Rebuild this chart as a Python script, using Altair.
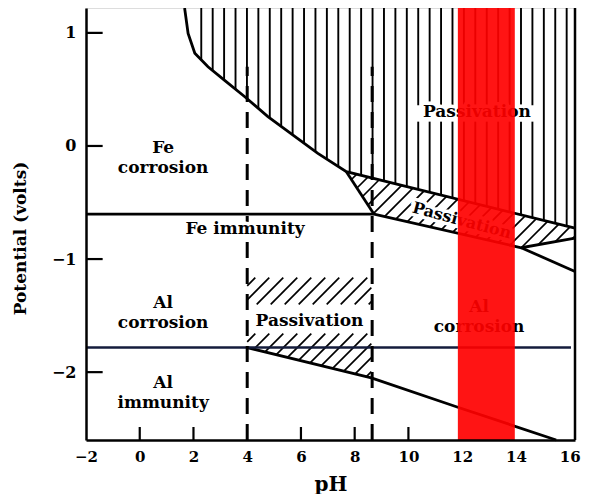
import altair as alt
import pandas as pd
import numpy as np

# ---------------- axis ranges ----------------
X_MIN, X_MAX = -2.0, 16.2
Y_MIN, Y_MAX = -2.6, 1.22
W, H = 489, 432

x_ticks = [-2, 0, 2, 4, 6, 8, 10, 12, 14, 16]
y_ticks = [-2, -1, 0, 1]
inner_x_ticks = [0, 2, 6, 8, 10]
inner_y_ticks = [-2, -1, 0, 1]

# ---------------- boundary data ----------------
# Fe passivation boundary (upper curve, continues as top of the Fe band)
fe_ph = [1.67, 1.80, 2.05, 2.54, 3.16, 3.91, 4.77, 6.63, 7.69, 16.2]
fe_v = [1.22, 0.995, 0.82, 0.70, 0.58, 0.435, 0.26, -0.065, -0.227, -0.727]
# steep segment from band junction down to Fe immunity line
steep_ph = [7.69, 8.72]
steep_v = [-0.227, -0.603]
# lower edge of Fe passivation band
band_low_ph = [8.72, 14.2, 16.2]
band_low_v = [-0.603, -0.90, -0.815]
# branch line from band corner to right edge
branch_ph = [14.2, 16.2]
branch_v = [-0.90, -1.11]
# Fe immunity line
fe_imm_ph = [-2.0, 8.72]
fe_imm_v = [-0.603, -0.603]
# Al immunity line
al_imm_ph = [-2.0, 16.05]
al_imm_v = [-1.783, -1.783]
# Al lower sloped line
al_low_ph = [4.0, 8.62, 11.84, 15.5]
al_low_v = [-1.783, -2.05, -2.31, -2.60]
# dashed verticals
dash_ph = [4.0, 8.65]
dash_top = 0.70
# Al passivation region
al_pass_left, al_pass_right, al_pass_top = 4.0, 8.62, -1.165
# red band
red_lo, red_hi = 11.84, 13.96

# labels (anchor = centre of first line)
lab_text = ["Fe\ncorrosion", "Al\ncorrosion", "Al\nimmunity", "Passivation", "Al\ncorrosion", "Passivation"]
lab_ph = [0.87, 0.87, 0.87, 6.32, 12.63, 12.55]
lab_v = [-0.02, -1.39, -2.095, -1.55, -1.42, 0.30]

# ---------------- helpers ----------------
sx = W / (X_MAX - X_MIN)
sy = H / (Y_MAX - Y_MIN)


def to_px(p, v):
    return ((p - X_MIN) * sx, (Y_MAX - v) * sy)


def to_data(px, py):
    return (px / sx + X_MIN, Y_MAX - py / sy)


def diag_hatch(poly, step=14.0, offset=0.0):
    pts = [to_px(p, v) for p, v in poly]
    s = [a + b for a, b in pts]
    c = np.floor(min(s) / step) * step + offset
    segs = []
    n = len(pts)
    while c <= max(s):
        inter = []
        for i in range(n):
            (x1, y1), (x2, y2) = pts[i], pts[(i + 1) % n]
            f1, f2 = x1 + y1 - c, x2 + y2 - c
            if f1 == f2:
                continue
            t = f1 / (f1 - f2)
            if 0 <= t <= 1:
                inter.append((x1 + t * (x2 - x1), y1 + t * (y2 - y1)))
        if len(inter) >= 2:
            inter.sort()
            a, b = inter[0], inter[-1]
            if abs(a[0] - b[0]) > 2:
                (p1, v1), (p2, v2) = to_data(*a), to_data(*b)
                segs.append(dict(x=p1, y=v1, x2=p2, y2=v2))
        c += step
    return segs


# vertical hatching above Fe boundary
vrows = []
for xv in np.arange(2.29, 16.1, 0.425):
    bottom = float(np.interp(xv, fe_ph, fe_v))
    if 10.3 <= xv <= 14.7:
        vrows.append(dict(x=xv, y=bottom, x2=xv, y2=0.215))
        vrows.append(dict(x=xv, y=0.36, x2=xv, y2=Y_MAX))
    else:
        vrows.append(dict(x=xv, y=bottom, x2=xv, y2=Y_MAX))
vh = pd.DataFrame(vrows)

# diagonal hatching
band_poly = [(fe_ph[-2], fe_v[-2]), (fe_ph[-1], fe_v[-1]),
             (band_low_ph[2], band_low_v[2]), (band_low_ph[1], band_low_v[1]),
             (steep_ph[1], steep_v[1])]
al_up_poly = [(al_pass_left, al_pass_top), (al_pass_right, al_pass_top),
              (al_pass_right, -1.40), (al_pass_left, -1.40)]
al_lo_poly = [(al_pass_left, -1.66), (al_pass_right, -1.66),
              (al_low_ph[1], al_low_v[1]), (al_low_ph[0], al_low_v[0])]
dh = pd.DataFrame(diag_hatch(band_poly, 14, 3) + diag_hatch(al_up_poly, 14, 5)
                  + diag_hatch(al_lo_poly, 14, 5))

# boundary lines
lines = []
for name, xs, ys in [("fe", fe_ph, fe_v), ("steep", steep_ph, steep_v),
                     ("low", band_low_ph, band_low_v), ("br", branch_ph, branch_v),
                     ("feimm", fe_imm_ph, fe_imm_v), ("allow", al_low_ph, al_low_v)]:
    for i, (a, b) in enumerate(zip(xs, ys)):
        lines.append(dict(seg=name, o=i, x=a, y=b))
lines_df = pd.DataFrame(lines)
al_df = pd.DataFrame(dict(x=al_imm_ph, y=al_imm_v))
dash_df = pd.DataFrame(dict(x=dash_ph, y=[Y_MIN] * 2, y2=[dash_top] * 2))
red_df = pd.DataFrame(dict(x=[red_lo], x2=[red_hi], y=[Y_MIN], y2=[Y_MAX]))
lab_df = pd.DataFrame(dict(t=lab_text, x=lab_ph, y=lab_v))
fe_imm_lab = pd.DataFrame(dict(t=["Fe immunity"], x=[3.92], y=[-0.73]))
band_lab = pd.DataFrame(dict(t=["Passivation"], x=[11.99], y=[-0.66]))
ytick_df = pd.DataFrame(dict(x=[X_MIN] * len(inner_y_ticks), x2=[X_MIN + 0.62] * len(inner_y_ticks), y=inner_y_ticks))
xtick_df = pd.DataFrame(dict(x=inner_x_ticks, y=[Y_MIN] * len(inner_x_ticks), y2=[Y_MIN + 0.115] * len(inner_x_ticks)))
border_df = pd.DataFrame(dict(x=[X_MAX], y=[Y_MIN], y2=[Y_MAX]))

FONT = "DejaVu Serif"
xs_ = alt.Scale(domain=[X_MIN, X_MAX], nice=False, zero=False)
ys_ = alt.Scale(domain=[Y_MIN, Y_MAX], nice=False, zero=False)
x_axis = alt.Axis(values=x_ticks, ticks=False, grid=False, labelPadding=9, labelFont=FONT,
                  labelFontWeight="bold", labelFontSize=15, labelColor="black",
                  domainColor="black", domainWidth=2.5, title="pH", titleFont=FONT,
                  titleFontSize=20, titleFontWeight="bold", titleColor="black",
                  titlePadding=10, zindex=1, labelFlush=False, labelOverlap=False)
y_axis = alt.Axis(values=y_ticks, ticks=False, grid=False, labelPadding=10, labelFont=FONT,
                  labelFontWeight="bold", labelFontSize=16, labelColor="black",
                  domainColor="black", domainWidth=2.5, title="Potential (volts)", titleFont=FONT,
                  titleFontSize=17, titleFontWeight="bold", titleColor="black",
                  titlePadding=22, titleY=230, zindex=1, labelFlush=False, labelOverlap=False)


def X(f="x"):
    return alt.X(f + ":Q", scale=xs_, axis=x_axis, title="pH")


def Y(f="y"):
    return alt.Y(f + ":Q", scale=ys_, axis=y_axis, title="Potential (volts)")


vhatch = alt.Chart(vh).mark_rule(color="black", strokeWidth=1.9).encode(
    x=X(), y=Y(), x2="x2:Q", y2="y2:Q")
dhatch = alt.Chart(dh).mark_rule(color="black", strokeWidth=1.7).encode(
    x=X(), y=Y(), x2="x2:Q", y2="y2:Q")
blines = alt.Chart(lines_df).mark_line(color="black", strokeWidth=2.8).encode(
    x=X(), y=Y(), detail="seg:N", order="o:Q")
alline = alt.Chart(al_df).mark_line(color="#141c3c", strokeWidth=2.5).encode(x=X(), y=Y())
dashes = alt.Chart(dash_df).mark_rule(color="black", strokeWidth=3, strokeDash=[16, 10]).encode(
    x=X(), y=Y(), y2="y2:Q")


def text_layers(df, size, angle=0):
    kw = dict(font=FONT, fontWeight="bold", fontSize=size, lineBreak="\n",
              lineHeight=20, align="center", baseline="middle")
    if angle:
        kw["angle"] = angle
    halo = alt.Chart(df).mark_text(fill="white", stroke="white", strokeWidth=7, **kw).encode(
        x=X(), y=Y(), text="t:N")
    txt = alt.Chart(df).mark_text(fill="black", **kw).encode(x=X(), y=Y(), text="t:N")
    return [halo, txt]


red = alt.Chart(red_df).mark_rect(color="#ff0000", opacity=0.92).encode(
    x=X(), x2="x2:Q", y=Y(), y2="y2:Q")
yt = alt.Chart(ytick_df).mark_rule(color="black", strokeWidth=2.2).encode(x=X(), x2="x2:Q", y=Y())
xt = alt.Chart(xtick_df).mark_rule(color="black", strokeWidth=2.2).encode(x=X(), y=Y(), y2="y2:Q")
border = alt.Chart(border_df).mark_rule(color="black", strokeWidth=2.5).encode(x=X(), y=Y(), y2="y2:Q")

layers = [vhatch, dhatch, blines, alline, dashes]
layers += text_layers(lab_df, 17)
layers += text_layers(fe_imm_lab, 17)
layers += text_layers(band_lab, 16, 15)
layers += [red, yt, xt, border]

chart = alt.layer(*layers).properties(
    width=W, height=H,
    autosize=alt.AutoSizeParams(type="none"),
    padding={"left": 78, "top": 0, "right": 6, "bottom": 54},
).configure_view(stroke=None).configure(background="white")

chart.save("out.html", embed_options={"renderer": "svg", "actions": False})
